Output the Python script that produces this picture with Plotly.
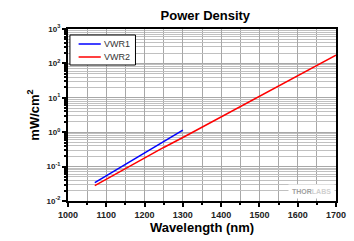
import plotly.graph_objects as go

series_names = ["VWR1", "VWR2"]
series_colors = ["#0000ff", "#ff0000"]

wl_vwr1 = [1070, 1100, 1150, 1200, 1250, 1300]
pd_vwr1 = [0.034, 0.054, 0.12, 0.25, 0.54, 1.15]

wl_vwr2 = [1070, 1100, 1150, 1200, 1250, 1300, 1350, 1400, 1450, 1500, 1550, 1600, 1650, 1700]
pd_vwr2 = [0.028, 0.043, 0.09, 0.18, 0.36, 0.70, 1.4, 2.8, 5.5, 11, 22, 43, 87, 175]

y_tickvals = [0.01, 0.1, 1, 10, 100, 1000]
y_ticktext = ["10<sup>-2</sup>", "10<sup>-1</sup>", "10<sup>0</sup>", "10<sup>1</sup>", "10<sup>2</sup>", "10<sup>3</sup>"]
y_minor = [m * d for d in [0.01, 0.1, 1, 10, 100] for m in range(2, 10)]

fig = go.Figure()
fig.add_trace(go.Scatter(x=wl_vwr1, y=pd_vwr1, mode="lines", name=series_names[0],
                         line=dict(color=series_colors[0], width=1.5), showlegend=False))
fig.add_trace(go.Scatter(x=wl_vwr2, y=pd_vwr2, mode="lines", name=series_names[1],
                         line=dict(color=series_colors[1], width=1.5), showlegend=False))

grid = "#a8a8a8"
minor_grid = "#c0c0c0"
fig.update_layout(
    width=354, height=241,
    margin=dict(l=68, r=8, t=29, b=40),
    paper_bgcolor="white", plot_bgcolor="white",
    font=dict(family="Arial, Liberation Sans, sans-serif", color="black"),
    title=dict(text="<b>Power Density</b>", x=0.58, xanchor="center", y=0.935, yanchor="middle",
               font=dict(size=13, color="black")),
    showlegend=False,
    xaxis=dict(range=[1000, 1700], dtick=100, tick0=1000,
               showline=True, linecolor="black", linewidth=2, mirror=True,
               ticks="outside", ticklen=4, tickwidth=1.5, tickcolor="black",
               showgrid=True, gridcolor=grid, gridwidth=1,
               minor=dict(dtick=50, showgrid=True, gridcolor=grid, ticks="outside", ticklen=2, tickcolor="black"),
               tickfont=dict(size=9, weight="bold", color="#222"),
               ticklabeloverflow="allow",
               title=dict(text="<b>Wavelength (nm)</b>", font=dict(size=13), standoff=2),
               zeroline=False),
    yaxis=dict(type="log", range=[-2, 3], tickvals=y_tickvals, ticktext=y_ticktext,
               showline=True, linecolor="black", linewidth=2, mirror=True,
               ticks="outside", ticklen=4, tickwidth=1.5, tickcolor="black",
               showgrid=True, gridcolor=grid, gridwidth=1,
               minor=dict(tickvals=y_minor, showgrid=True, gridcolor=minor_grid, ticks="outside", ticklen=2, tickcolor="black"),
               tickfont=dict(size=8, weight="bold", color="#222"),
               title=dict(text="<b>mW/cm<sup>2</sup></b>", font=dict(size=13), standoff=4),
               zeroline=False),
)

# Legend box (paper coords: plot spans x 68..346, y 29..201 px)
def px_x(p):
    return (p - 68) / 278.0

def px_y(p):
    return (201 - p) / 172.0

fig.add_shape(type="rect", xref="paper", yref="paper",
              x0=px_x(70), x1=px_x(138), y0=px_y(65), y1=px_y(35),
              line=dict(color="black", width=1), fillcolor="white", layer="above")
for i, (nm, col) in enumerate(zip(series_names, series_colors)):
    yy = px_y(44 + 13 * i)
    fig.add_shape(type="line", xref="paper", yref="paper",
                  x0=px_x(79), x1=px_x(102), y0=yy, y1=yy,
                  line=dict(color=col, width=1.5), layer="above")
    fig.add_annotation(text=nm, xref="paper", yref="paper", x=px_x(103), y=yy,
                       xanchor="left", yanchor="middle", showarrow=False,
                       font=dict(size=9, color="#333"))

fig.add_annotation(text="<b><span style='color:#a0a0a0'>THOR</span><span style='color:#d0d0d0'>LABS</span></b>",
                   x=0.995, y=0.01, xref="paper", yref="paper",
                   xanchor="right", yanchor="bottom", showarrow=False,
                   font=dict(size=7, color="#b0b0b0"), bgcolor="white", borderpad=3)
fig.write_html("out.html", config={"displayModeBar": False},
               post_script="document.body.style.margin='0';")
